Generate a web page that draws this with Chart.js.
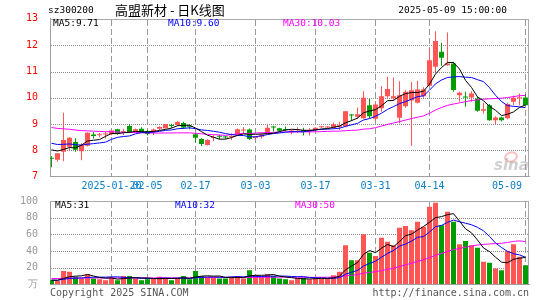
<!DOCTYPE html>
<html>
<head>
<meta charset="utf-8">
<script src="https://cdn.jsdelivr.net/npm/chart.js@4.4.0/dist/chart.umd.min.js"></script>
<style>
body { margin: 0; background: #fff; }
#wrap { position: relative; width: 545px; height: 300px; }
canvas { position: absolute; left: 0; }
#kChart { top: 0; }
#volChart { top: 190px; }
</style>
</head>
<body>
<div id="wrap">
    <canvas id="kChart" width="545" height="190"></canvas>
    <canvas id="volChart" width="545" height="110"></canvas>
</div>
<script>
const dates = [
    "01-06", "01-07", "01-08", "01-09", "01-10", "01-13", "01-14", "01-15", "01-16", "01-17",
    "01-20", "01-21", "01-22", "01-23", "01-24", "01-27", "02-05", "02-06", "02-07", "02-10",
    "02-11", "02-12", "02-13", "02-14", "02-17", "02-18", "02-19", "02-20", "02-21", "02-24",
    "02-25", "02-26", "02-27", "02-28", "03-03", "03-04", "03-05", "03-06", "03-07", "03-10",
    "03-11", "03-12", "03-13", "03-14", "03-17", "03-18", "03-19", "03-20", "03-21", "03-24",
    "03-25", "03-26", "03-27", "03-28", "03-31", "04-01", "04-02", "04-03", "04-07", "04-08",
    "04-09", "04-10", "04-11", "04-14", "04-15", "04-16", "04-17", "04-18", "04-21", "04-22",
    "04-23", "04-24", "04-25", "04-28", "04-29", "04-30", "05-06", "05-07", "05-08", "05-09",
];

const opens = [
    7.72, 7.64, 7.95, 8.14, 8.32, 7.97, 8.18, 8.60, 8.58, 8.60,
    8.61, 8.80, 8.69, 8.93, 8.71, 8.82, 8.74, 8.71, 8.82, 8.84,
    8.96, 8.97, 9.04, 8.92, 8.61, 8.43, 8.21, 8.47, 8.55, 8.52,
    8.51, 8.59, 8.76, 8.79, 8.47, 8.52, 8.62, 8.89, 8.84, 8.80,
    8.69, 8.77, 8.77, 8.72, 8.78, 8.88, 8.87, 8.85, 8.90, 8.92,
    9.35, 9.28, 9.22, 9.72, 9.20, 9.60, 10.06, 9.98, 9.24, 9.68,
    9.90, 9.81, 10.06, 10.46, 11.18, 11.75, 11.24, 11.30, 10.10, 10.04,
    10.01, 9.97, 9.51, 9.72, 9.15, 9.25, 9.22, 9.85, 9.98, 10.01,
];
const highs = [
    7.78, 7.90, 9.43, 8.50, 8.46, 8.27, 8.69, 8.70, 8.66, 8.70,
    8.78, 8.82, 8.82, 9.00, 8.83, 8.88, 8.78, 8.83, 8.92, 9.00,
    9.01, 9.12, 9.09, 8.97, 8.66, 8.46, 8.42, 8.58, 8.60, 8.56,
    8.65, 8.83, 8.88, 8.83, 8.55, 8.64, 8.98, 8.94, 8.86, 8.91,
    8.78, 8.88, 8.86, 8.84, 8.88, 8.94, 8.92, 9.06, 9.09, 9.50,
    9.38, 9.63, 10.25, 9.95, 9.78, 10.44, 10.80, 10.77, 10.63, 10.29,
    10.60, 10.65, 10.40, 11.87, 12.53, 12.09, 12.48, 11.37, 10.24, 10.23,
    10.25, 10.04, 9.81, 9.76, 9.30, 9.28, 9.81, 10.08, 10.16, 10.14,
];
const lows = [
    7.36, 7.57, 7.60, 8.00, 7.95, 7.63, 8.15, 8.45, 8.50, 8.45,
    8.58, 8.60, 8.59, 8.67, 8.69, 8.68, 8.57, 8.59, 8.78, 8.82,
    8.85, 8.94, 8.82, 8.80, 8.31, 8.17, 8.19, 8.35, 8.42, 8.44,
    8.40, 8.56, 8.63, 8.40, 8.40, 8.45, 8.60, 8.72, 8.72, 8.72,
    8.61, 8.66, 8.57, 8.57, 8.76, 8.85, 8.84, 8.82, 8.78, 8.88,
    9.12, 9.20, 9.20, 9.21, 9.12, 9.47, 10.00, 9.90, 9.03, 9.62,
    8.18, 9.78, 10.00, 10.42, 10.95, 11.22, 11.22, 10.23, 9.85, 9.66,
    9.85, 9.47, 9.40, 9.13, 9.00, 9.10, 9.18, 9.72, 9.72, 9.72,
];
const closes = [
    7.68, 7.89, 8.40, 8.48, 8.02, 8.21, 8.67, 8.55, 8.61, 8.63,
    8.76, 8.63, 8.72, 8.70, 8.80, 8.70, 8.62, 8.79, 8.89, 9.00,
    8.93, 9.08, 8.87, 8.90, 8.48, 8.24, 8.40, 8.49, 8.52, 8.49,
    8.54, 8.80, 8.79, 8.43, 8.50, 8.60, 8.86, 8.87, 8.75, 8.78,
    8.76, 8.79, 8.74, 8.75, 8.86, 8.91, 8.89, 8.99, 8.96, 9.49,
    9.33, 9.37, 10.00, 9.30, 9.75, 10.06, 10.33, 10.06, 10.10, 10.23,
    10.29, 10.32, 10.32, 11.43, 12.16, 11.52, 11.30, 10.30, 10.19, 10.01,
    10.16, 9.51, 9.56, 9.15, 9.25, 9.15, 9.76, 10.00, 10.01, 9.72,
];
// 成交量(万手)
const volumes = [
    5, 4, 16, 15, 9, 7, 12, 7, 6, 5,
    8, 5, 10, 10, 7, 5, 6, 7, 9, 8,
    5, 7, 10, 6, 16, 10, 9, 8, 7, 7,
    9, 10, 7, 17, 11, 9, 12, 10, 7, 6,
    5, 7, 8, 6, 8, 7, 7, 11, 15, 47,
    29, 29, 60, 38, 34, 56, 51, 47, 68, 70,
    65, 75, 69, 93, 98, 71, 87, 75, 48, 52,
    47, 44, 27, 26, 19, 17, 40, 48, 33, 23,
];

const tickDates = ["01-20", "02-05", "02-17", "03-03", "03-17", "03-31", "04-14", "05-09"];
const firstTickLabel = "2025-01-20";
const priceTicks = [7, 8, 9, 10, 11, 12, 13];
const priceGrid = [8, 9, 10, 11, 12];
const volTicks = [0, 20, 40, 60, 80, 100];
const volGrid = [20, 40, 60, 80];
const volUnit = "万";

// MA5 / MA10 / MA30 on the first day (earlier days not shown)
const maStart = [8.02, 8.27, 8.87];
const volMaStart = [5, 5, 7];
const maDays = [5, 10, 30];
const maLabels = ["MA5:9.71", "MA10:9.60", "MA30:10.03"];
const volMaLabels = ["MA5:31", "MA10:32", "MA30:50"];

const RED = "#ff5555";
const GREEN = "#009c00";
const MA_COLORS = ["#000000", "#0000ff", "#ff00ff"];
const MONO = "DejaVu Sans Mono";

function movingAvg(arr, n, start) {
    // days before the first one are taken so that the first average equals start
    const pad = (n * start - arr[0]) / (n - 1);
    return arr.map((v, i) => {
        let sum = 0;
        for (let k = i - n + 1; k <= i; k++) {
            sum += k < 0 ? pad : arr[k];
        }
        return sum / n;
    });
}

const candleColors = closes.map((c, i) => (c >= opens[i] ? RED : GREEN));
const tickIdx = tickDates.map((d) => dates.indexOf(d));

function xScale(height) {
    return {
        type: "linear",
        offset: false,
        min: -0.25,
        max: 79.5833,
        afterBuildTicks: (s) => {
            s.ticks = tickIdx.map((v) => ({ value: v }));
        },
        afterFit: (s) => {
            s.height = height;
        },
        ticks: { display: false },
        grid: { display: false, offset: false },
        border: { color: "#a0a0a0" },
    };
}

function maDatasets(src, starts) {
    return maDays.map((n, k) => ({
        type: "line",
        data: movingAvg(src, n, starts[k]).map((v, i) => ({ x: i, y: v })),
        borderColor: MA_COLORS[k],
        borderWidth: 1,
        pointRadius: 0,
        tension: 0,
        order: 0,
    }));
}

// frame, dashed date lines and dotted value lines, placed through the scales
function makeGridPlugin(id, hLines) {
    return {
        id: id,
        beforeDatasetsDraw(chart) {
            const { ctx, chartArea: a } = chart;
            const xs = chart.scales.x;
            const ys = chart.scales.y;
            const top = Math.round(a.top);
            const bottom = Math.round(a.bottom);
            const left = Math.round(a.left);
            const right = Math.round(a.right);
            ctx.save();
            ctx.fillStyle = "#999999";
            tickIdx.forEach((idx) => {
                const px = Math.floor(xs.getPixelForValue(idx));
                for (let y = top + 1; y < bottom; y += 9) {
                    ctx.fillRect(px, y, 1, Math.min(6, bottom - y));
                }
            });
            ctx.fillStyle = "#8c8c8c";
            hLines.forEach((v) => {
                const py = Math.round(ys.getPixelForValue(v));
                for (let x = left + 1; x < right; x += 2) {
                    ctx.fillRect(x, py, 1, 1);
                }
            });
            ctx.fillStyle = "#aaaaaa";
            ctx.fillRect(left, top, right - left, 1);
            ctx.fillRect(right - 1, top, 1, bottom - top);
            ctx.restore();
        },
    };
}

const kPlugin = {
    id: "kText",
    afterDraw(chart) {
        const { ctx, chartArea: a } = chart;
        const xs = chart.scales.x;
        ctx.save();
        ctx.textBaseline = "middle";

        // header
        ctx.font = "9.5px '" + MONO + "'";
        ctx.fillStyle = "#000";
        ctx.textAlign = "left";
        ctx.fillText("sz300200", 48, 11);
        ctx.textAlign = "right";
        ctx.fillText("2025-05-09 15:00:00", 507, 11);
        ctx.textAlign = "left";
        ctx.font = "13px 'Noto Sans CJK SC'";
        ctx.fillText("高盟新材 - 日K线图", 115, 10);

        // MA labels
        ctx.font = "9.5px '" + MONO + "'";
        const labelX = [53, 168, 283];
        maLabels.forEach((t, k) => {
            ctx.fillStyle = MA_COLORS[k];
            ctx.fillText(t, labelX[k], 24);
        });

        // date labels
        ctx.font = "10px '" + MONO + "'";
        ctx.fillStyle = "#0a7fc8";
        tickIdx.forEach((idx, k) => {
            const px = xs.getPixelForValue(idx);
            const text = k === 0 ? firstTickLabel : tickDates[k];
            if (k === tickIdx.length - 1) {
                ctx.textAlign = "right";
                ctx.fillText(text, a.right - 7, 186);
            } else {
                ctx.textAlign = "center";
                ctx.fillText(text, px, 186);
            }
        });

        // sina watermark
        ctx.strokeStyle = "rgba(235,120,120,0.45)";
        ctx.lineWidth = 2;
        ctx.beginPath();
        ctx.ellipse(511, 157, 6, 4.5, -0.3, 0, Math.PI * 2);
        ctx.stroke();
        ctx.font = "italic bold 15px 'DejaVu Sans'";
        ctx.fillStyle = "rgba(150,150,150,0.45)";
        ctx.textAlign = "left";
        ctx.fillText("sina", 494, 166);
        ctx.restore();
    },
};

const volPlugin = {
    id: "volText",
    afterDraw(chart) {
        const { ctx } = chart;
        ctx.save();
        ctx.textBaseline = "middle";
        ctx.font = "9.5px '" + MONO + "'";
        const labelX = [55, 175, 295];
        volMaLabels.forEach((t, k) => {
            ctx.fillStyle = MA_COLORS[k];
            ctx.textAlign = "left";
            ctx.fillText(t, labelX[k], 16);
        });
        ctx.font = "10px '" + MONO + "'";
        ctx.fillStyle = "#555";
        ctx.fillText("Copyright 2025 SINA.COM", 50, 103.5);
        ctx.textAlign = "right";
        ctx.fillText("http://finance.sina.com.cn", 529, 103.5);
        ctx.restore();
    },
};

const barBase = {
    type: "bar",
    grouped: false,
    borderWidth: 0,
    inflateAmount: 0,
};

new Chart(document.getElementById("kChart"), {
    type: "bar",
    data: {
        datasets: [
            ...maDatasets(closes, maStart),
            {
                ...barBase,
                data: opens.map((o, i) => ({ x: i, y: [o, closes[i]] })),
                backgroundColor: candleColors,
                barThickness: 5,
                minBarLength: 1,
                order: 1,
            },
            {
                ...barBase,
                data: lows.map((l, i) => ({ x: i, y: [l, highs[i]] })),
                backgroundColor: candleColors,
                barThickness: 1,
                order: 2,
            },
        ],
    },
    options: {
        responsive: false,
        animation: false,
        events: [],
        layout: { padding: { top: 18.9, right: 16, left: 0, bottom: 0 } },
        plugins: { legend: { display: false }, tooltip: { enabled: false } },
        scales: {
            x: xScale(13.3),
            y: {
                min: 7,
                max: 13,
                afterBuildTicks: (s) => {
                    s.ticks = priceTicks.map((v) => ({ value: v }));
                },
                afterFit: (s) => {
                    s.width = 50;
                },
                ticks: { color: "#ff0000", font: { family: MONO, size: 10 }, padding: 4 },
                grid: { display: false },
                border: { color: "#a0a0a0" },
            },
        },
    },
    plugins: [makeGridPlugin("kGrid", priceGrid), kPlugin],
});

new Chart(document.getElementById("volChart"), {
    type: "bar",
    data: {
        datasets: [
            ...maDatasets(volumes, volMaStart),
            {
                ...barBase,
                data: volumes.map((v, i) => ({ x: i, y: v })),
                backgroundColor: candleColors,
                barThickness: 5,
                order: 1,
            },
        ],
    },
    options: {
        responsive: false,
        animation: false,
        events: [],
        layout: { padding: { top: 11, right: 16, left: 0, bottom: 0 } },
        plugins: { legend: { display: false }, tooltip: { enabled: false } },
        scales: {
            x: xScale(15.7),
            y: {
                min: 0,
                max: 100,
                afterBuildTicks: (s) => {
                    s.ticks = volTicks.map((v) => ({ value: v }));
                },
                afterFit: (s) => {
                    s.width = 50;
                },
                ticks: {
                    color: "#999",
                    font: { family: MONO, size: 10 },
                    padding: 4,
                    callback: (v) => (v === 0 ? volUnit : v),
                },
                grid: { display: false },
                border: { color: "#a0a0a0" },
            },
        },
    },
    plugins: [makeGridPlugin("volGrid", volGrid), volPlugin],
});
</script>
</body>
</html>
